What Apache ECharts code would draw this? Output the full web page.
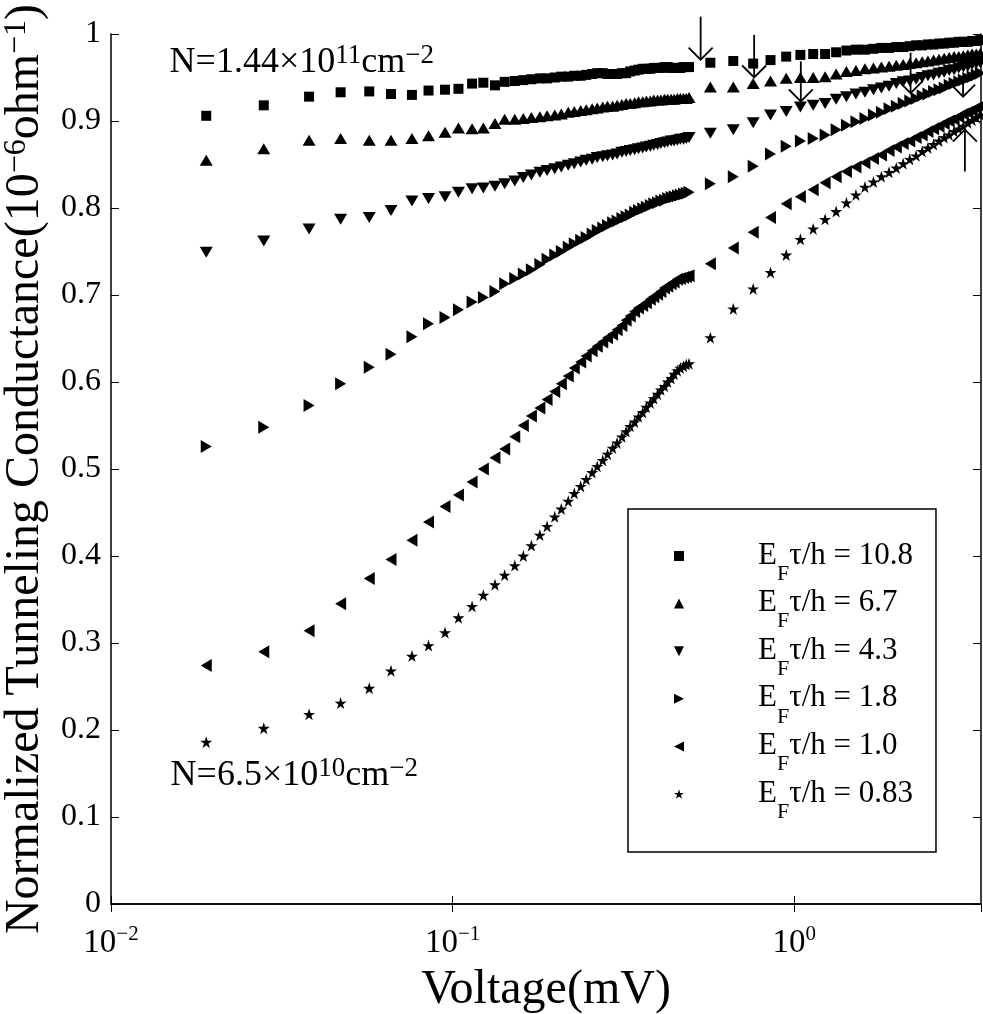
<!DOCTYPE html>
<html>
<head>
<meta charset="utf-8">
<script src="https://cdn.jsdelivr.net/npm/echarts@6/dist/echarts.min.js"></script>
<style>
  html, body { margin: 0; padding: 0; background: #fff; }
  #chart { width: 983px; height: 1014px; }
</style>
</head>
<body>
<div id="chart"></div>
<script>
// Bias voltages (mV): fine sweep below 0.5 mV, coarse sweep above it
const lowVoltage = [0.019, 0.028, 0.038, 0.047, 0.057, 0.066, 0.076, 0.085, 0.095, 0.104,
  0.114, 0.123, 0.133, 0.142, 0.152, 0.161, 0.170, 0.180, 0.189, 0.199,
  0.208, 0.218, 0.227, 0.237, 0.246, 0.256, 0.265, 0.275, 0.284, 0.294,
  0.303, 0.313, 0.322, 0.331, 0.341, 0.350, 0.360, 0.369, 0.379, 0.388,
  0.398, 0.407, 0.417, 0.426, 0.436, 0.445, 0.455, 0.464, 0.474, 0.483, 0.492];
const highVoltage = [0.568, 0.663, 0.758, 0.852, 0.947, 1.042, 1.136, 1.231, 1.326, 1.421,
  1.515, 1.610, 1.705, 1.799, 1.894, 1.989, 2.083, 2.178, 2.273, 2.368,
  2.462, 2.557, 2.652, 2.746, 2.841, 2.936, 3.030, 3.125, 3.220, 3.315, 3.409, 3.504];

// Normalized conductance, one pair of arrays per E_F tau/h value
const g108Low = [0.906, 0.918, 0.928, 0.933, 0.934, 0.931, 0.930, 0.935, 0.936, 0.937,
  0.943, 0.944, 0.941, 0.945, 0.946, 0.947, 0.948, 0.949, 0.949, 0.950,
  0.951, 0.951, 0.952, 0.952, 0.953, 0.954, 0.955, 0.955, 0.954, 0.954,
  0.954, 0.955, 0.955, 0.957, 0.958, 0.959, 0.960, 0.960, 0.960, 0.961,
  0.961, 0.961, 0.962, 0.962, 0.961, 0.961, 0.961, 0.961, 0.962, 0.962, 0.962];
const g108High = [0.967, 0.969, 0.966, 0.970, 0.974, 0.976, 0.977, 0.977, 0.979, 0.981,
  0.982, 0.982, 0.983, 0.984, 0.984, 0.985, 0.985, 0.986, 0.987, 0.987,
  0.988, 0.988, 0.989, 0.989, 0.990, 0.990, 0.991, 0.991, 0.991, 0.992, 0.992, 0.993];

const g67Low = [0.855, 0.868, 0.878, 0.880, 0.878, 0.878, 0.880, 0.883, 0.887, 0.892,
  0.891, 0.892, 0.897, 0.902, 0.902, 0.903, 0.904, 0.905, 0.906, 0.907,
  0.908, 0.910, 0.911, 0.912, 0.913, 0.914, 0.915, 0.916, 0.917, 0.917,
  0.918, 0.919, 0.920, 0.920, 0.921, 0.922, 0.922, 0.923, 0.923, 0.924,
  0.924, 0.924, 0.925, 0.925, 0.925, 0.925, 0.926, 0.926, 0.926, 0.926, 0.927];
const g67High = [0.939, 0.939, 0.943, 0.946, 0.949, 0.950, 0.950, 0.951, 0.954, 0.957,
  0.958, 0.960, 0.961, 0.962, 0.963, 0.964, 0.965, 0.966, 0.967, 0.968,
  0.969, 0.970, 0.971, 0.972, 0.973, 0.974, 0.974, 0.975, 0.976, 0.977, 0.977, 0.978];

const g43Low = [0.749, 0.762, 0.776, 0.787, 0.789, 0.797, 0.808, 0.811, 0.813, 0.818,
  0.822, 0.823, 0.825, 0.828, 0.831, 0.835, 0.838, 0.841, 0.843, 0.845,
  0.847, 0.849, 0.851, 0.853, 0.855, 0.856, 0.858, 0.859, 0.860, 0.861,
  0.862, 0.864, 0.865, 0.866, 0.867, 0.868, 0.869, 0.870, 0.871, 0.872,
  0.873, 0.874, 0.875, 0.876, 0.877, 0.877, 0.878, 0.879, 0.879, 0.880, 0.881];
const g43High = [0.886, 0.890, 0.898, 0.907, 0.911, 0.916, 0.918, 0.920, 0.925, 0.928,
  0.931, 0.933, 0.936, 0.938, 0.940, 0.943, 0.945, 0.946, 0.948, 0.950,
  0.952, 0.953, 0.955, 0.956, 0.958, 0.959, 0.961, 0.962, 0.963, 0.965, 0.966, 0.967];

const g18Low = [0.526, 0.548, 0.573, 0.598, 0.617, 0.632, 0.652, 0.667, 0.674, 0.683,
  0.692, 0.697, 0.704, 0.713, 0.719, 0.724, 0.729, 0.735, 0.741, 0.746,
  0.750, 0.755, 0.759, 0.763, 0.766, 0.770, 0.774, 0.777, 0.780, 0.783,
  0.785, 0.788, 0.790, 0.792, 0.795, 0.797, 0.799, 0.801, 0.803, 0.805,
  0.806, 0.808, 0.809, 0.811, 0.812, 0.813, 0.814, 0.815, 0.816, 0.817, 0.818];
const g18High = [0.828, 0.836, 0.848, 0.862, 0.871, 0.877, 0.880, 0.884, 0.890, 0.895,
  0.899, 0.903, 0.907, 0.910, 0.914, 0.917, 0.920, 0.923, 0.926, 0.929,
  0.931, 0.934, 0.936, 0.938, 0.941, 0.943, 0.945, 0.947, 0.949, 0.951, 0.953, 0.955];

const g10Low = [0.274, 0.290, 0.314, 0.345, 0.374, 0.396, 0.418, 0.439, 0.457, 0.470,
  0.485, 0.500, 0.513, 0.523, 0.537, 0.550, 0.561, 0.570, 0.580, 0.589,
  0.598, 0.607, 0.616, 0.623, 0.630, 0.636, 0.641, 0.646, 0.651, 0.655,
  0.660, 0.665, 0.671, 0.676, 0.681, 0.685, 0.688, 0.691, 0.695, 0.698,
  0.701, 0.704, 0.708, 0.710, 0.713, 0.715, 0.718, 0.719, 0.720, 0.721, 0.722];
const g10High = [0.736, 0.754, 0.772, 0.789, 0.805, 0.813, 0.821, 0.829, 0.836, 0.842,
  0.847, 0.852, 0.857, 0.861, 0.866, 0.870, 0.874, 0.877, 0.881, 0.884,
  0.888, 0.891, 0.894, 0.897, 0.900, 0.902, 0.905, 0.908, 0.910, 0.912, 0.915, 0.917];

const g083Low = [0.186, 0.202, 0.218, 0.231, 0.248, 0.268, 0.285, 0.297, 0.312, 0.329,
  0.342, 0.355, 0.367, 0.378, 0.389, 0.400, 0.412, 0.424, 0.434, 0.445,
  0.454, 0.463, 0.472, 0.480, 0.488, 0.496, 0.503, 0.510, 0.517, 0.524,
  0.530, 0.537, 0.543, 0.549, 0.554, 0.560, 0.565, 0.571, 0.576, 0.581,
  0.586, 0.591, 0.595, 0.600, 0.604, 0.609, 0.613, 0.616, 0.618, 0.620, 0.621];
const g083High = [0.651, 0.684, 0.707, 0.726, 0.746, 0.764, 0.776, 0.787, 0.796, 0.806,
  0.815, 0.824, 0.830, 0.836, 0.841, 0.846, 0.851, 0.856, 0.860, 0.865,
  0.869, 0.873, 0.877, 0.881, 0.884, 0.888, 0.891, 0.894, 0.898, 0.901, 0.904, 0.907];

const scatteringLabels = ['10.8', '6.7', '4.3', '1.8', '1.0', '0.83'];

// Arrows marking features on the curves: voltage, tail value, tip value
const arrowVoltage = [0.532, 0.763, 1.045, 2.19, 3.12, 3.158];
const arrowTail = [1.020, 0.999, 0.9685, 0.9785, 0.952, 0.842];
const arrowTip = [0.9705, 0.950, 0.9225, 0.932, 0.928, 0.890];

const yTicks = { min: 0, max: 1, interval: 0.1 };
const xRange = { min: 0.01, max: 3.52 };

const SERIF = '"Liberation Serif", "Times New Roman", serif';

const STAR = 'path://M100,0L122.3,69.3L195.1,69.1L136.1,111.7L158.8,180.9L100,138L41.2,180.9L63.9,111.7L4.9,69.1L77.7,69.3Z';
const markers = [
  { symbol: 'rect', size: [10, 10] },
  { symbol: 'triangle', size: [13, 11] },
  { symbol: 'path://M0,0L10,0L5,10Z', size: [13, 11] },
  { symbol: 'path://M0,0L10,5L0,10Z', size: [11, 13] },
  { symbol: 'path://M10,0L0,5L10,10Z', size: [11, 13] },
  { symbol: STAR, size: [12, 12] }
];

const lowSets = [g108Low, g67Low, g43Low, g18Low, g10Low, g083Low];
const highSets = [g108High, g67High, g43High, g18High, g10High, g083High];

function pairs(xs, ys) { return xs.map((x, i) => [x, ys[i]]); }

const scatterSeries = scatteringLabels.map((name, k) => ({
  name: name,
  type: 'scatter',
  xAxisIndex: 0,
  yAxisIndex: 0,
  symbol: markers[k].symbol,
  symbolSize: markers[k].size,
  itemStyle: { color: '#000', opacity: 1 },
  emphasis: { disabled: true },
  data: pairs(lowVoltage, lowSets[k]).concat(pairs(highVoltage, highSets[k]))
}));

const arrowSeries = {
  name: 'arrows',
  type: 'custom',
  clip: false,
  silent: true,
  z: 5,
  data: arrowVoltage.map((v, i) => [v, arrowTail[i], arrowTip[i]]),
  renderItem: function (params, api) {
    const tail = api.coord([api.value(0), api.value(1)]);
    const tip = api.coord([api.value(0), api.value(2)]);
    const dir = tip[1] > tail[1] ? 1 : -1;
    const h = 12;
    const st = { stroke: '#000', lineWidth: 1.8, fill: null };
    return {
      type: 'group',
      children: [
        { type: 'line', shape: { x1: tail[0], y1: tail[1], x2: tip[0], y2: tip[1] }, style: st },
        { type: 'polyline', shape: { points: [[tip[0] - h, tip[1] - dir * h], [tip[0], tip[1]], [tip[0] + h, tip[1] - dir * h]] }, style: st }
      ]
    };
  }
};

const supRich = function (F, L, S, d) {
  // centre of a superscript token placed with verticalAlign 'top'
  const c = L / 2 + 0.3375 * F - d - 0.3375 * S;
  return { fontSize: S, fontFamily: SERIF, lineHeight: Math.max(2, 2 * c), verticalAlign: 'top', color: '#000' };
};

const chart = echarts.init(document.getElementById('chart'));

const option = {
  animation: false,
  backgroundColor: '#fff',
  grid: { left: 111, right: 2, top: 34, bottom: 110, containLabel: false, outerBoundsMode: 'none' },
  xAxis: [
    {
      type: 'log',
      logBase: 10,
      min: xRange.min,
      max: xRange.max,
      position: 'bottom',
      name: 'Voltage(mV)',
      nameLocation: 'middle',
      nameGap: 52,
      nameTextStyle: { fontFamily: SERIF, fontSize: 48, lineHeight: 50, color: '#000' },
      axisLine: { show: true, lineStyle: { color: '#000', width: 1.5 } },
      axisTick: { show: true, inside: true, length: 8, lineStyle: { color: '#000', width: 1 } },
      minorTick: { show: false },
      splitLine: { show: false },
      axisLabel: {
        show: true,
        margin: 20,
        showMaxLabel: false,
        formatter: function (v) {
          const e = Math.round(Math.log10(v));
          return '{b|10}{s|' + (e < 0 ? '\u2212' + (-e) : String(e)) + '}';
        },
        rich: {
          b: { fontSize: 33, fontFamily: SERIF, lineHeight: 36, verticalAlign: 'bottom', color: '#000' },
          s: supRich(33, 36, 21, 20)
        }
      }
    },
    {
      type: 'log',
      logBase: 10,
      min: xRange.min,
      max: xRange.max,
      position: 'top',
      axisLine: { show: true, lineStyle: { color: '#000', width: 1.5 } },
      axisTick: { show: true, inside: true, length: 8, lineStyle: { color: '#000', width: 1 } },
      axisLabel: { show: false },
      splitLine: { show: false }
    }
  ],
  yAxis: [
    {
      type: 'value',
      min: yTicks.min,
      max: yTicks.max,
      interval: yTicks.interval,
      position: 'left',
      name: 'Normalized Tunneling Conductance(10{s|\u22126}ohm{s|\u22121})',
      nameLocation: 'middle',
      nameRotate: 90,
      nameGap: 55,
      nameTextStyle: {
        fontFamily: SERIF, fontSize: 48, lineHeight: 50, color: '#000',
        rich: { s: supRich(48, 50, 32, 24) }
      },
      axisLine: { show: true, lineStyle: { color: '#000', width: 1.5 } },
      axisTick: { show: true, inside: true, length: 8, lineStyle: { color: '#000', width: 1 } },
      splitLine: { show: false },
      axisLabel: {
        margin: 10,
        fontFamily: SERIF,
        fontSize: 32,
        color: '#000',
        formatter: function (v) { return v === 0 ? '0' : (v === 1 ? '1' : v.toFixed(1)); }
      }
    },
    {
      type: 'value',
      min: yTicks.min,
      max: yTicks.max,
      interval: yTicks.interval,
      position: 'right',
      axisLine: { show: true, lineStyle: { color: '#000', width: 1.5 } },
      axisTick: { show: true, inside: true, length: 8, lineStyle: { color: '#000', width: 1 } },
      axisLabel: { show: false },
      splitLine: { show: false }
    }
  ],
  legend: {
    data: scatteringLabels,
    orient: 'vertical',
    left: 628,
    top: 509,
    padding: [31, 23, 29, 46],
    itemGap: 2.6,
    itemWidth: 10,
    itemHeight: 10,
    borderColor: '#000',
    borderWidth: 1.5,
    backgroundColor: '#fff',
    selectedMode: false,
    itemStyle: { opacity: 1 },
    formatter: function (name) {
      return '{g| }{m|E}{f|F}{m|\u03c4/h = ' + name + '}';
    },
    textStyle: {
      width: 243,
      fontFamily: SERIF,
      fontSize: 31,
      color: '#000',
      rich: {
        g: { width: 69, fontSize: 10, lineHeight: 10, verticalAlign: 'top' },
        m: { fontSize: 31, fontFamily: SERIF, lineHeight: 32, verticalAlign: 'top', color: '#000' },
        f: { fontSize: 22, fontFamily: SERIF, lineHeight: 22, padding: [23, 0, 0, 0], verticalAlign: 'top', color: '#000' }
      }
    }
  },
  graphic: [
    {
      type: 'text',
      x: 169.6,
      y: 42.9,
      silent: true,
      style: {
        text: 'N=1.44\u00d710{s|11}cm{s|\u22122}',
        fontFamily: SERIF, fontSize: 36, lineHeight: 40, fill: '#000',
        align: 'left', verticalAlign: 'top',
        rich: { s: Object.assign(supRich(36, 40, 27, 15), { fill: '#000' }) }
      }
    },
    {
      type: 'text',
      x: 170.6,
      y: 755.9,
      silent: true,
      style: {
        text: 'N=6.5\u00d710{s|10}cm{s|\u22122}',
        fontFamily: SERIF, fontSize: 36, lineHeight: 40, fill: '#000',
        align: 'left', verticalAlign: 'top',
        rich: { s: Object.assign(supRich(36, 40, 27, 15), { fill: '#000' }) }
      }
    }
  ],
  series: scatterSeries.concat([arrowSeries])
};

chart.setOption(option);
</script>
</body>
</html>
